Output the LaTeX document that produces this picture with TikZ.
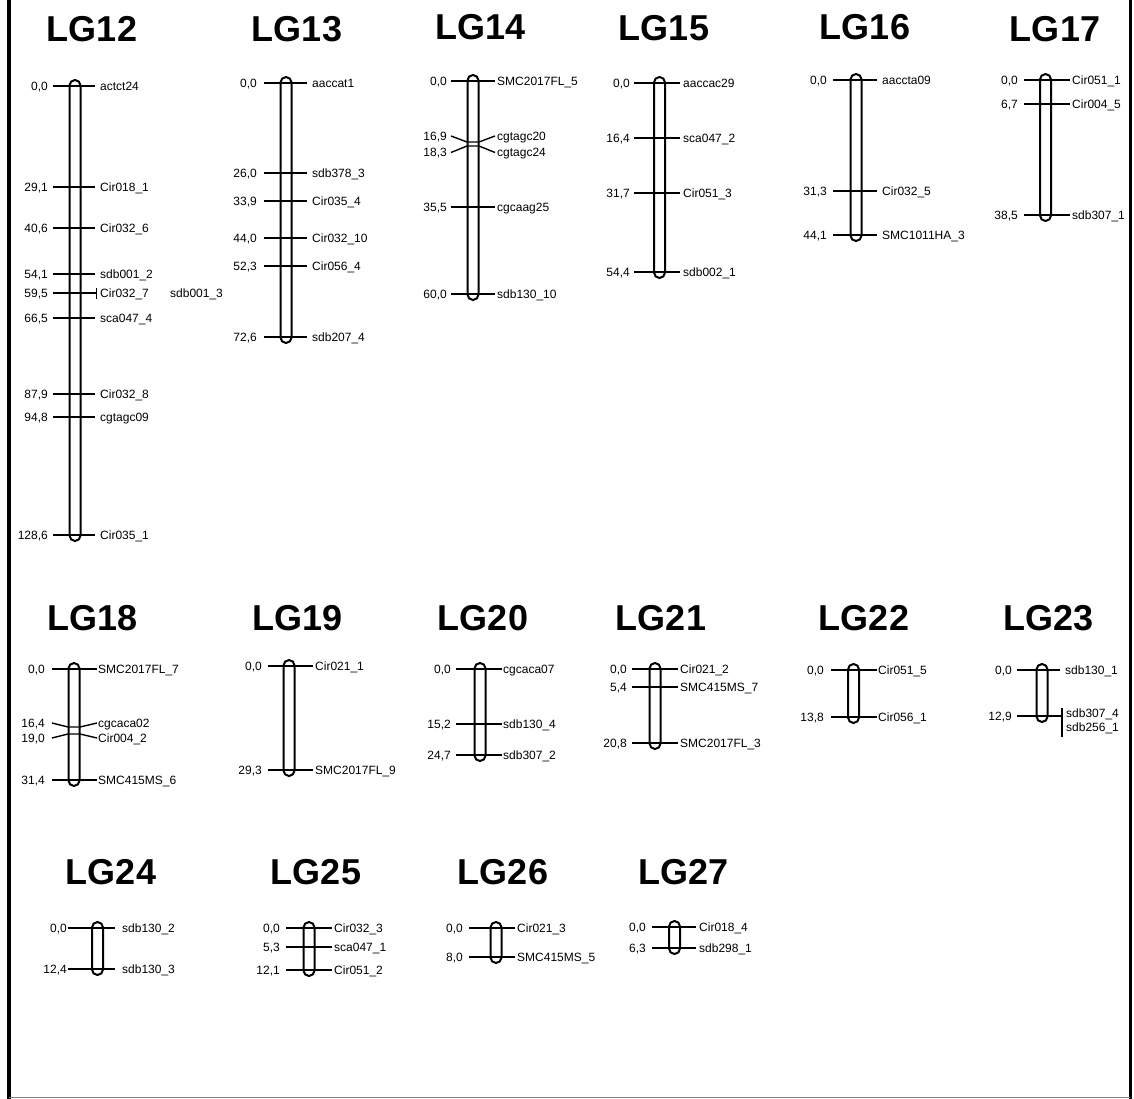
\documentclass[tikz,border=0pt]{standalone}
\usepackage{fontspec}
\setmainfont{Liberation Sans}
\newcounter{lblc}
\def\armL{22.5}\def\armR{22.5}\def\gapN{5.5}\def\gapM{2.5}
\newcommand{\SetArms}[4]{\gdef\armL{#1}\gdef\armR{#2}\gdef\gapN{#3}\gdef\gapM{#4}}
\newcommand{\Chr}[3]{\draw[chrbar] (#1-5.5,#2-6) rectangle (#1+5.5,#3+6);}
\newcommand{\Tk}[4]{%
  \stepcounter{lblc}%
  \coordinate (tl\arabic{lblc}) at (#1-\armL,#2);
  \coordinate (tr\arabic{lblc}) at (#1+\armR,#2);
  \draw[tk] (tl\arabic{lblc}) -- (tr\arabic{lblc});
  \node[num] (n\arabic{lblc}) at (#1-\armL-\gapN,#2+4.3) {#3};
  \node[lab] (m\arabic{lblc}) at (#1+\armR+\gapM,#2+4.3) {#4};}
\begin{document}
\begin{tikzpicture}[x=1pt,y=-1pt,
  chrbar/.style={line width=2pt, rounded corners=5.5pt},
  tk/.style={line width=1.4pt},
  num/.style={font=\fontsize{12}{12}\selectfont, inner sep=0pt, anchor=base east},
  lab/.style={font=\fontsize{12}{12}\selectfont, inner sep=0pt, anchor=base west},
  ttl/.style={font=\fontsize{36}{36}\selectfont\bfseries, inner sep=0pt, anchor=base}]
\useasboundingbox (0,0) rectangle (1134,1099);
\fill[white] (0,0) rectangle (1134,1099);
% frame
\draw[line width=4pt] (8.7,0) -- (8.7,1099);
\draw[line width=3pt] (1130,0) -- (1130,1099);
\draw[line width=1.2pt, gray] (8.7,1097.5) -- (1130,1097.5);
% titles
\node[ttl] (t12) at (92,42) {LG12};
\node[ttl] (t13) at (297,42) {LG13};
\node[ttl] (t14) at (480.5,40) {LG14};
\node[ttl] (t15) at (664,41) {LG15};
\node[ttl] (t16) at (865,40) {LG16};
\node[ttl] (t17) at (1055,42) {LG17};
\node[ttl] (t18) at (92.5,630) {LG18};
\node[ttl] (t19) at (297.5,630) {LG19};
\node[ttl] (t20) at (483,630) {LG20};
\node[ttl] (t21) at (661,630) {LG21};
\node[ttl] (t22) at (864,630) {LG22};
\node[ttl] (t23) at (1048.5,630) {LG23};
\node[ttl] (t24) at (111,884) {LG24};
\node[ttl] (t25) at (316,884) {LG25};
\node[ttl] (t26) at (503,884) {LG26};
\node[ttl] (t27) at (683.5,884) {LG27};
% LG12
\SetArms{22}{20}{5}{5}
\Chr{75}{86}{535}
\Tk{75}{86}{0,0}{actct24}
\Tk{75}{187}{29,1}{Cir018\_1}
\Tk{75}{228}{40,6}{Cir032\_6}
\Tk{75}{274}{54,1}{sdb001\_2}
\coordinate (b12l) at (53,293); \coordinate (b12r) at (96.5,293);
\coordinate (b12t) at (96.5,288); \coordinate (b12b) at (96.5,299);
\draw[tk] (b12l) -- (b12r); \draw[tk] (b12t) -- (b12b);
\node[num] (n12s) at (48,297.3) {59,5};
\node[lab] (m12s) at (100,297.3) {Cir032\_7};
\node[lab] (m12t) at (170,297.3) {sdb001\_3};
\Tk{75}{318}{66,5}{sca047\_4}
\Tk{75}{394}{87,9}{Cir032\_8}
\Tk{75}{417}{94,8}{cgtagc09}
\Tk{75}{535}{128,6}{Cir035\_1}
% LG13
\SetArms{22}{21}{7}{5}
\Chr{286}{83}{337}
\Tk{286}{83}{0,0}{aaccat1}
\Tk{286}{173}{26,0}{sdb378\_3}
\Tk{286}{201}{33,9}{Cir035\_4}
\Tk{286}{238}{44,0}{Cir032\_10}
\Tk{286}{266}{52,3}{Cir056\_4}
\Tk{286}{337}{72,6}{sdb207\_4}
% LG14
\SetArms{22}{22}{4}{2}
\Chr{473}{81}{294}
\Tk{473}{81}{0,0}{SMC2017FL\_5}
\coordinate (x14a) at (451,136); \coordinate (x14b) at (467,142);
\coordinate (x14c) at (479,142); \coordinate (x14d) at (495,136);
\coordinate (x14e) at (451,152.5); \coordinate (x14f) at (467,146);
\coordinate (x14g) at (479,146); \coordinate (x14h) at (495,152.5);
\draw[tk] (x14a) -- (x14b) -- (x14c) -- (x14d);
\draw[tk] (x14e) -- (x14f) -- (x14g) -- (x14h);
\node[num] (n14a) at (447,140.3) {16,9};
\node[num] (n14b) at (447,156.8) {18,3};
\node[lab] (m14a) at (497,140.3) {cgtagc20};
\node[lab] (m14b) at (497,156.8) {cgtagc24};
\Tk{473}{207}{35,5}{cgcaag25}
\Tk{473}{294}{60,0}{sdb130\_10}
% LG15
\SetArms{25.5}{20.5}{4}{3}
\Chr{659.5}{83}{272}
\Tk{659.5}{83}{0,0}{aaccac29}
\Tk{659.5}{138}{16,4}{sca047\_2}
\Tk{659.5}{193}{31,7}{Cir051\_3}
\Tk{659.5}{272}{54,4}{sdb002\_1}
% LG16
\SetArms{23}{21}{6}{5}
\Chr{856}{80}{235}
\Tk{856}{80}{0,0}{aaccta09}
\Tk{856}{191}{31,3}{Cir032\_5}
\Tk{856}{235}{44,1}{SMC1011HA\_3}
% LG17
\SetArms{21.5}{24.5}{6}{2}
\Chr{1045.5}{80}{215}
\Tk{1045.5}{80}{0,0}{Cir051\_1}
\Tk{1045.5}{104}{6,7}{Cir004\_5}
\Tk{1045.5}{215}{38,5}{sdb307\_1}
% LG18
\SetArms{22}{23}{7}{1}
\Chr{74}{669}{780}
\Tk{74}{669}{0,0}{SMC2017FL\_7}
\coordinate (x18a) at (52,723); \coordinate (x18b) at (68,727);
\coordinate (x18c) at (80,727); \coordinate (x18d) at (97,723);
\coordinate (x18e) at (52,738); \coordinate (x18f) at (68,734);
\coordinate (x18g) at (80,734); \coordinate (x18h) at (97,738);
\draw[tk] (x18a) -- (x18b) -- (x18c) -- (x18d);
\draw[tk] (x18e) -- (x18f) -- (x18g) -- (x18h);
\node[num] (n18a) at (45,727.3) {16,4};
\node[num] (n18b) at (45,742.3) {19,0};
\node[lab] (m18a) at (98,727.3) {cgcaca02};
\node[lab] (m18b) at (98,742.3) {Cir004\_2};
\Tk{74}{780}{31,4}{SMC415MS\_6}
% LG19
\SetArms{21}{24}{6}{2}
\Chr{289}{666}{770}
\Tk{289}{666}{0,0}{Cir021\_1}
\Tk{289}{770}{29,3}{SMC2017FL\_9}
% LG20
\SetArms{24}{22}{5}{1}
\Chr{480}{669}{755}
\Tk{480}{669}{0,0}{cgcaca07}
\Tk{480}{724}{15,2}{sdb130\_4}
\Tk{480}{755}{24,7}{sdb307\_2}
% LG21
\SetArms{23}{23}{5}{2}
\Chr{655}{669}{743}
\Tk{655}{669}{0,0}{Cir021\_2}
\Tk{655}{687}{5,4}{SMC415MS\_7}
\Tk{655}{743}{20,8}{SMC2017FL\_3}
% LG22
\SetArms{22.5}{23.5}{7}{1}
\Chr{853.5}{670}{717}
\Tk{853.5}{670}{0,0}{Cir051\_5}
\Tk{853.5}{717}{13,8}{Cir056\_1}
% LG23
\SetArms{25}{18}{5}{5}
\Chr{1042}{670}{716}
\Tk{1042}{670}{0,0}{sdb130\_1}
\coordinate (b23l) at (1017,716); \coordinate (b23r) at (1062,716);
\coordinate (b23t) at (1062,708); \coordinate (b23b) at (1062,737);
\draw[tk] (b23l) -- (b23r); \draw[tk] (b23t) -- (b23b);
\node[num] (n23s) at (1012,720.3) {12,9};
\node[lab] (m23s) at (1066,717) {sdb307\_4};
\node[lab] (m23t) at (1066,731) {sdb256\_1};
% LG24
\SetArms{29.5}{17.5}{1}{7}
\Chr{97.5}{928}{969}
\Tk{97.5}{928}{0,0}{sdb130\_2}
\Tk{97.5}{969}{12,4}{sdb130\_3}
% LG25
\SetArms{23}{23}{6}{2}
\Chr{309}{928}{970}
\Tk{309}{928}{0,0}{Cir032\_3}
\Tk{309}{947}{5,3}{sca047\_1}
\Tk{309}{970}{12,1}{Cir051\_2}
% LG26
\SetArms{27}{19}{6}{2}
\Chr{496}{928}{957}
\Tk{496}{928}{0,0}{Cir021\_3}
\Tk{496}{957}{8,0}{SMC415MS\_5}
% LG27
\SetArms{22.5}{21.5}{6}{3}
\Chr{674.5}{927}{948}
\Tk{674.5}{927}{0,0}{Cir018\_4}
\Tk{674.5}{948}{6,3}{sdb298\_1}
\end{tikzpicture}
\end{document}
